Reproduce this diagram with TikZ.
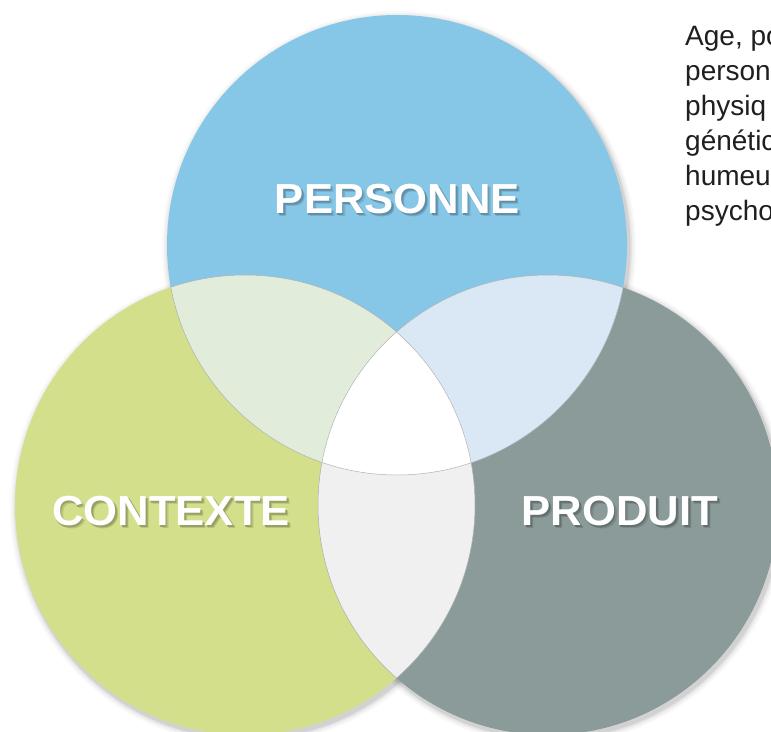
\documentclass[tikz,border=0pt]{standalone}
\usepackage{fontspec}
\setmainfont{Liberation Sans}
\definecolor{cblue}{HTML}{86C6E7}
\definecolor{cgreen}{HTML}{D3DF8A}
\definecolor{cgrey}{HTML}{8A9B9A}
\definecolor{clgreen}{HTML}{E1EDDA}
\definecolor{clblue}{HTML}{DAE7F5}
\definecolor{clgrey}{HTML}{F0F0F1}
% text with a soft drop shadow in one box: #1 = background colour, #2 = text
\newcommand\shadowedtitle[2]{%
  \rlap{\kern3pt\raisebox{-3.5pt}{\textcolor{#1!88!black}{\scalebox{1.04}[1]{#2}}}}%
  \rlap{\kern1.6pt\raisebox{-2pt}{\textcolor{#1!72!black}{\scalebox{1.04}[1]{#2}}}}%
  \scalebox{1.04}[1]{#2}}
\tikzset{
  title/.style={font=\fontsize{42}{42}\selectfont\bfseries, text=white, anchor=base, inner sep=0pt},
  bodytext/.style={font=\fontsize{28}{28}\selectfont, text=black!88, anchor=base west, inner sep=0pt},
  seam/.style={draw=black!30, line width=0.5pt},
}
\begin{document}
\begin{tikzpicture}[x=1pt,y=-1pt]
\useasboundingbox (0,0) rectangle (771,731);
\clip (0,0) rectangle (771,731);
\fill[white] (0,0) rectangle (771,731);

\coordinate (T) at (397,245);
\coordinate (L) at (245,505);
\coordinate (R) at (548,505);

% soft shadows
\foreach \c in {T,L,R}{
  \foreach \r/\o in {237/0.025,235/0.035,233/0.05,231.5/0.07}{
    \fill[black, opacity=\o] ([shift={(2,3)}]\c) circle (\r pt);
  }
}

% base circles
\fill[cgreen] (L) circle (230pt);
\fill[cgrey]  (R) circle (230pt);
\fill[cblue]  (T) circle (230pt);

% pairwise intersections
\begin{scope}
  \clip (T) circle (230pt);
  \fill[clgreen] (L) circle (230pt);
\end{scope}
\begin{scope}
  \clip (T) circle (230pt);
  \fill[clblue] (R) circle (230pt);
\end{scope}
\begin{scope}
  \clip (L) circle (230pt);
  \fill[clgrey] (R) circle (230pt);
\end{scope}
\begin{scope}
  \clip (T) circle (230pt);
  \clip (L) circle (230pt);
  \fill[white] (R) circle (230pt);
\end{scope}

% seams
\begin{scope}
  \clip (L) circle (230pt) (R) circle (230pt);
  \draw[seam] (T) circle (230pt);
\end{scope}
\begin{scope}
  \clip (T) circle (230pt) (R) circle (230pt);
  \draw[seam] (L) circle (230pt);
\end{scope}
\begin{scope}
  \clip (T) circle (230pt) (L) circle (230pt);
  \draw[seam] (R) circle (230pt);
\end{scope}

% titles
\node[title] (personne) at (397.5,213) {\shadowedtitle{cblue}{PERSONNE}};
\node[title] (contexte) at (171,525) {\shadowedtitle{cgreen}{CONTEXTE}};
\node[title] (produit) at (620,525) {\shadowedtitle{cgrey}{PRODUIT}};

% side text (cut off by the picture edge)
\node[bodytext] (t1) at (685,45)  {Age, po};
\node[bodytext] (t2) at (685,80)  {person};
\node[bodytext] (t3) at (685,115) {physiq};
\node[bodytext] (t4) at (685,150) {génétic};
\node[bodytext] (t5) at (685,185) {humeu};
\node[bodytext] (t6) at (685,220) {psycho};
\end{tikzpicture}
\end{document}
